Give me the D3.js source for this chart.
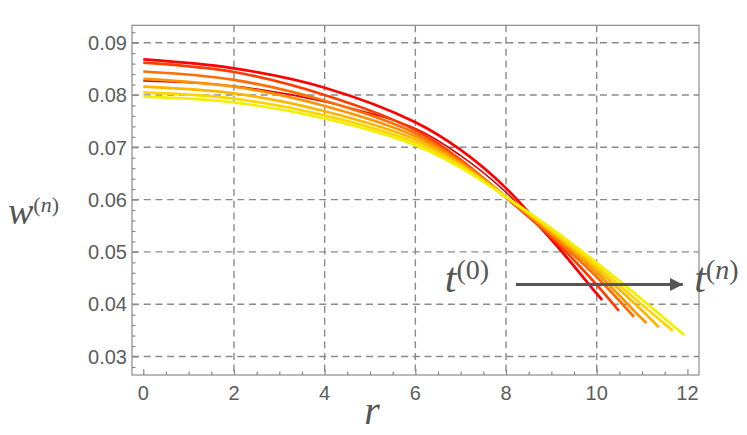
<!DOCTYPE html>
<html>
<head>
<meta charset="utf-8">
<script src="https://cdn.jsdelivr.net/npm/d3@7"></script>
<style>
  body { margin: 0; background: #fff; }
  svg { display: block; }
  .tick-label { font-family: "Liberation Sans", Arial, sans-serif; font-size: 20px; fill: #5c5c5c; }
  .math { font-family: "Liberation Serif", "Times New Roman", serif; fill: #555; }
</style>
</head>
<body>
<div id="chart"></div>
<script>
const rSamples = [0, 2, 4, 6, 7, 8, 9, 10, 11];

const wRed     = [0.0868, 0.0851, 0.0814, 0.0748, 0.0695, 0.0622, 0.0525, 0.0420];
const wRedThin = [0.0827, 0.0817, 0.0787, 0.0736, 0.0684, 0.0614, 0.0522, 0.0420];
const w1 = [0.0862, 0.0844, 0.0800, 0.0733, 0.0676, 0.0604, 0.0528, 0.0437];
const w2 = [0.0845, 0.0829, 0.0789, 0.0727, 0.0673, 0.0605, 0.0532, 0.0452];
const w3 = [0.0831, 0.0816, 0.0779, 0.0721, 0.0670, 0.0605, 0.0536, 0.0460, 0.0372];
const w4 = [0.0816, 0.0803, 0.0769, 0.0715, 0.0667, 0.0605, 0.0539, 0.0467, 0.0388];
const w5 = [0.0805, 0.0793, 0.0761, 0.0709, 0.0664, 0.0605, 0.0542, 0.0473, 0.0399];
const w6 = [0.0797, 0.0786, 0.0755, 0.0704, 0.0661, 0.0605, 0.0545, 0.0479, 0.0409];

const rEnd = [10.10, 10.12, 10.49, 10.82, 11.10, 11.37, 11.68, 11.93];
const wEnd = [0.0410, 0.0408, 0.0387, 0.0376, 0.0364, 0.0356, 0.0349, 0.0341];

const seriesValues = [wRedThin, wRed, w1, w2, w3, w4, w5, w6];
const seriesColors = ["#e0000a", "#ff0000", "#ff3d00", "#ff6e00", "#ff9400", "#ffb600", "#ffd500", "#f0f000"];
const seriesWidths = [1.6, 2.7, 2.7, 2.7, 2.7, 2.7, 2.7, 2.7];

const xTicks = [0, 2, 4, 6, 8, 10, 12];
const xGrid = [2, 4, 6, 8, 10];
const yTicks = [0.03, 0.04, 0.05, 0.06, 0.07, 0.08, 0.09];
const yTickLabels = ["0.03", "0.04", "0.05", "0.06", "0.07", "0.08", "0.09"];

// annotation anchors (data coordinates)
const arrowFrom = [8.22, 0.04377];
const arrowTo = [11.9, 0.04377];
const labelStart = [6.65, 0.04233];
const labelEnd = [12.15, 0.04233];

const width = 747, height = 435;
const plot = { left: 132, right: 699, top: 25.3, bottom: 375 };

const svg = d3.select("#chart")
    .append("svg")
    .attr("width", width)
    .attr("height", height);

const x = d3.scaleLinear().domain([-0.249, 12.256]).range([plot.left, plot.right]);
const y = d3.scaleLinear().domain([0.02646, 0.09333]).range([plot.bottom, plot.top]);

const gridColor = "#8a8a8a";

// dashed grid
svg.append("g").selectAll("line")
    .data(xGrid)
    .join("line")
    .attr("x1", d => x(d)).attr("x2", d => x(d))
    .attr("y1", plot.top).attr("y2", plot.bottom)
    .attr("stroke", gridColor)
    .attr("stroke-width", 1.4)
    .attr("stroke-dasharray", "7,4.7");

svg.append("g").selectAll("line")
    .data(yTicks)
    .join("line")
    .attr("x1", plot.left).attr("x2", plot.right)
    .attr("y1", d => y(d)).attr("y2", d => y(d))
    .attr("stroke", gridColor)
    .attr("stroke-width", 1.4)
    .attr("stroke-dasharray", "7,4.7");

// frame
svg.append("rect")
    .attr("x", plot.left).attr("y", plot.top)
    .attr("width", plot.right - plot.left)
    .attr("height", plot.bottom - plot.top)
    .attr("fill", "none")
    .attr("stroke", "#8a8a8a")
    .attr("stroke-width", 1.2);

// inward ticks, major and minor
const xMinor = d3.range(0, 12.01, 0.5).filter(v => !xTicks.includes(v));
const yMinor = d3.range(0.028, 0.0931, 0.002).filter(v => !yTicks.some(t => Math.abs(t - v) < 1e-6));

svg.append("g")
    .attr("transform", `translate(0,${plot.bottom})`)
    .call(d3.axisTop(x).tickValues(xTicks).tickSize(6).tickFormat(""))
    .call(g => g.select(".domain").remove())
    .call(g => g.selectAll("line").attr("stroke", "#8a8a8a").attr("stroke-width", 1.2));
svg.append("g")
    .attr("transform", `translate(0,${plot.bottom})`)
    .call(d3.axisTop(x).tickValues(xMinor).tickSize(3.5).tickFormat(""))
    .call(g => g.select(".domain").remove())
    .call(g => g.selectAll("line").attr("stroke", "#8a8a8a").attr("stroke-width", 1.2));

svg.append("g")
    .attr("transform", `translate(${plot.left},0)`)
    .call(d3.axisRight(y).tickValues(yTicks).tickSize(6).tickFormat(""))
    .call(g => g.select(".domain").remove())
    .call(g => g.selectAll("line").attr("stroke", "#8a8a8a").attr("stroke-width", 1.2));
svg.append("g")
    .attr("transform", `translate(${plot.left},0)`)
    .call(d3.axisRight(y).tickValues(yMinor).tickSize(3.5).tickFormat(""))
    .call(g => g.select(".domain").remove())
    .call(g => g.selectAll("line").attr("stroke", "#8a8a8a").attr("stroke-width", 1.2));

// tick labels
svg.append("g").selectAll("text")
    .data(xTicks)
    .join("text")
    .attr("class", "tick-label")
    .attr("x", d => x(d))
    .attr("y", 399.5)
    .attr("text-anchor", "middle")
    .text(d => d);

svg.append("g").selectAll("text")
    .data(yTicks)
    .join("text")
    .attr("class", "tick-label")
    .attr("x", 127)
    .attr("y", d => y(d))
    .attr("dy", "0.36em")
    .attr("text-anchor", "end")
    .text((d, i) => yTickLabels[i]);

// curves
const line = d3.line()
    .x(d => x(d[0]))
    .y(d => y(d[1]))
    .curve(d3.curveCatmullRom.alpha(0.5));

const curves = seriesValues.map((vals, i) => {
    const pts = vals.map((v, j) => [rSamples[j], v]);
    pts.push([rEnd[i], wEnd[i]]);
    return pts;
});

svg.append("g").selectAll("path")
    .data(curves)
    .join("path")
    .attr("d", line)
    .attr("fill", "none")
    .attr("stroke", (d, i) => seriesColors[i])
    .attr("stroke-width", (d, i) => seriesWidths[i])
    .attr("stroke-linecap", "butt");

// axis titles
svg.append("text")
    .attr("class", "math")
    .attr("x", 372)
    .attr("y", 424)
    .attr("text-anchor", "middle")
    .style("font-size", "40px")
    .style("font-style", "italic")
    .text("r");

const wLabel = svg.append("text")
    .attr("class", "math")
    .attr("x", 8)
    .attr("y", 223.5)
    .style("font-size", "38px");
wLabel.append("tspan").style("font-style", "italic").text("w");
wLabel.append("tspan").attr("dy", -12).style("font-size", "22px").text("(");
wLabel.append("tspan").style("font-size", "22px").style("font-style", "italic").text("n");
wLabel.append("tspan").style("font-size", "22px").text(")");

// time arrow annotation
svg.append("defs").append("marker")
    .attr("id", "head")
    .attr("viewBox", "0 0 12 12")
    .attr("refX", 12).attr("refY", 6)
    .attr("markerWidth", 13).attr("markerHeight", 13)
    .attr("markerUnits", "userSpaceOnUse")
    .attr("orient", "auto")
    .append("path")
    .attr("d", "M0,0 L12,6 L0,12 Z")
    .attr("fill", "#555");

svg.append("line")
    .attr("x1", x(arrowFrom[0])).attr("y1", y(arrowFrom[1]))
    .attr("x2", x(arrowTo[0])).attr("y2", y(arrowTo[1]))
    .attr("stroke", "#555")
    .attr("stroke-width", 3)
    .attr("marker-end", "url(#head)");

function timeLabel(pos, sup, supItalic) {
    const t = svg.append("text")
        .attr("class", "math")
        .attr("x", x(pos[0]))
        .attr("y", y(pos[1]))
        .style("font-size", "42px");
    t.append("tspan").style("font-style", "italic").text("t");
    t.append("tspan").attr("dy", -13).style("font-size", "28px").text("(");
    t.append("tspan").style("font-size", "28px").style("font-style", supItalic ? "italic" : "normal").text(sup);
    t.append("tspan").style("font-size", "28px").text(")");
}
timeLabel(labelStart, "0", false);
timeLabel(labelEnd, "n", true);
</script>
</body>
</html>
